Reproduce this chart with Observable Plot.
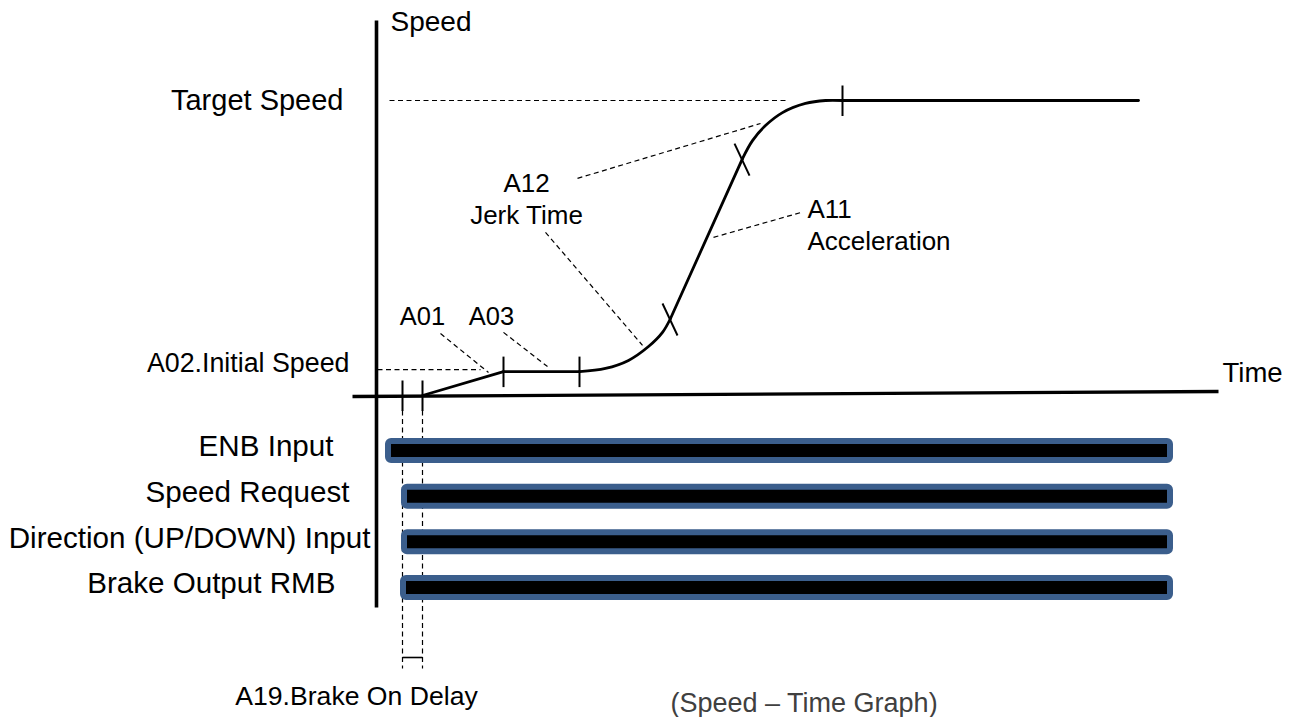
<!DOCTYPE html>
<html>
<head>
<meta charset="utf-8">
<script src="https://cdn.jsdelivr.net/npm/d3@7"></script>
<script src="https://cdn.jsdelivr.net/npm/@observablehq/plot@0.6"></script>
<style>
  html, body { margin: 0; padding: 0; background: #ffffff; }
  #chart svg { display: block; }
</style>
</head>
<body>
<div id="chart"></div>
<script>
// ---------------- DATA ----------------
// time: arbitrary units measured from the speed axis; speed: % of target speed
const segmentNames  = ["A01 ramp", "A03 hold", "A12 jerk in", "A11 acceleration", "A12 jerk out", "target"];
const segmentTimes  = [
  [46, 127],
  [127, 203],
  [203, 229, 252, 272, 286, 294],
  [294, 366],
  [366, 376, 389, 406, 429, 449, 466],
  [466, 762]
];
const segmentSpeeds = [
  [0, 8.1],
  [8.1, 8.1],
  [8.1, 9.2, 11.9, 16.6, 21.4, 26.1],
  [26.1, 80.3],
  [80.3, 86.4, 91.5, 95.9, 99, 100, 100],
  [100, 100]
];

// boundaries between phases (tick marks on the profile)
const boundaryTimes  = [26, 46, 127, 203, 294, 366, 466];
const boundarySpeeds = [0, 0, 8.1, 8.1, 26.1, 80.3, 100];

const targetSpeed  = 100;
const initialSpeed = 8.1;
const brakeReleaseTime = 26;   // A19 delay start
const runStartTime     = 46;   // A19 delay end

// signals
const signals   = ["ENB Input", "Speed Request", "Direction (UP/DOWN) Input", "Brake Output RMB"];
const signalOn  = [9, 25, 25, 24];
const signalOff = [797, 797, 797, 797];

// text
const axisTitles = ["Speed", "Time"];
const levelLabels = ["Target Speed", "A02.Initial Speed"];
const phaseLabels = ["A01", "A03", "A12\nJerk Time", "A11\nAcceleration"];
const delayLabel = "A19.Brake On Delay";
const captionText = "(Speed \u2013 Time Graph)";

// ---------------- LAYOUT (code, not data) ----------------
const W = 1291, H = 717;
const pxPerSpeed = 2.95;
const FONT = "'Liberation Sans', Arial, Helvetica, sans-serif";
const x = {domain: [-376, W - 376], range: [0, W]};
const y = {domain: [-(H - 395) / pxPerSpeed, 395 / pxPerSpeed], range: [H, 0]};
const sp = px => px / pxPerSpeed; // convert a pixel length into speed units

const profile = segmentNames.flatMap((seg, i) =>
  segmentTimes[i].map((t, j) => ({seg, t, s: segmentSpeeds[i][j], smooth: segmentTimes[i].length > 2}))
);

const boundaries = boundaryTimes.map((t, i) => {
  const s = boundarySpeeds[i];
  const slanted = s > initialSpeed && s < targetSpeed;
  return slanted
    ? {x1: t - 8, y1: s + sp(15), x2: t + 7, y2: s - sp(17)}
    : {x1: t, y1: s + sp(15), x2: t, y2: s - sp(15.5)};
});

const lane = d3.scalePoint().domain(signals).range([sp(395 - 450.5), sp(395 - 587.5)]);
const barHalf = sp(9.5);
const bars = signals.map((name, i) => ({
  name, x1: signalOn[i] + 3, x2: signalOff[i] - 3,
  y1: lane(name) + barHalf, y2: lane(name) - barHalf
}));
const laneLabelEnd = [-43, -27, -6, -41];
const laneLabels = signals.map((name, i) => ({name, t: laneLabelEnd[i], s: lane(name) + sp(4)}));

// dashed leader / reference lines
const leaders = [
  {x1: 13,  y1: targetSpeed, x2: 411, y2: targetSpeed},               // target speed reference
  {x1: 1,   y1: initialSpeed + sp(2), x2: 104, y2: initialSpeed + sp(2)}, // initial speed reference
  {x1: 64,  y1: 21,   x2: 112, y2: 7.8},   // A01
  {x1: 127, y1: 21.4, x2: 171, y2: 9.8},   // A03
  {x1: 169, y1: 55.3, x2: 266, y2: 17},    // A12 (jerk in)
  {x1: 201, y1: 73.6, x2: 384, y2: 92.2},  // A12 (jerk out)
  {x1: 337, y1: 53.6, x2: 424, y2: 62},    // A11
  {x1: brakeReleaseTime, y1: sp(-15), x2: brakeReleaseTime, y2: sp(395 - 668)},
  {x1: runStartTime,     y1: sp(-15), x2: runStartTime,     y2: sp(395 - 668)}
];

const chart = Plot.plot({
  width: W,
  height: H,
  margin: 0,
  x: {...x, axis: null},
  y: {...y, axis: null},
  style: {background: "#ffffff", fontFamily: FONT, overflow: "visible"},
  marks: [
    // axes
    Plot.link([{x1: 0, y1: sp(395 - 20), x2: 0, y2: sp(395 - 607)}],
      {x1: "x1", y1: "y1", x2: "x2", y2: "y2", stroke: "#000", strokeWidth: 3.6}),
    Plot.link([{x1: -24, y1: sp(-1), x2: 842, y2: sp(4)}],
      {x1: "x1", y1: "y1", x2: "x2", y2: "y2", stroke: "#000", strokeWidth: 3.4}),
    // dashed leaders
    Plot.link(leaders, {x1: "x1", y1: "y1", x2: "x2", y2: "y2", stroke: "#000",
      strokeWidth: 1.2, strokeDasharray: "5,3.5"}),
    // A19 bracket
    Plot.link([{x1: brakeReleaseTime, x2: runStartTime, y: sp(395 - 657)}],
      {x1: "x1", x2: "x2", y1: "y", y2: "y", stroke: "#000", strokeWidth: 1.6}),
    // signal bars
    Plot.rect(bars, {x1: "x1", x2: "x2", y1: "y1", y2: "y2", fill: "#000",
      stroke: "#3b5e8c", strokeWidth: 6, rx: 3}),
    // speed profile
    Plot.line(profile.filter(d => !d.smooth), {x: "t", y: "s", z: "seg", stroke: "#000",
      strokeWidth: 2.8, strokeLinecap: "round"}),
    Plot.line(profile.filter(d => d.smooth), {x: "t", y: "s", z: "seg", stroke: "#000",
      strokeWidth: 2.8, curve: "catmull-rom"}),
    // boundary ticks
    Plot.link(boundaries, {x1: "x1", y1: "y1", x2: "x2", y2: "y2", stroke: "#000", strokeWidth: 2}),
    // axis titles
    Plot.text([axisTitles[0]], {x: 14, y: sp(395 - 22), text: d => d, textAnchor: "start",
      fontSize: 28, fill: "#000"}),
    Plot.text([axisTitles[1]], {x: 846, y: sp(395 - 373), text: d => d, textAnchor: "start",
      fontSize: 27.5, fill: "#000"}),
    // level labels
    Plot.text([levelLabels[0]], {x: -33, y: targetSpeed, text: d => d, textAnchor: "end",
      fontSize: 29, fill: "#000"}),
    Plot.text([levelLabels[1]], {x: -27, y: sp(395 - 363), text: d => d, textAnchor: "end",
      fontSize: 26.8, fill: "#000"}),
    // phase labels
    Plot.text([phaseLabels[0]], {x: 46, y: sp(395 - 316), text: d => d, fontSize: 25.5, fill: "#000"}),
    Plot.text([phaseLabels[1]], {x: 115, y: sp(395 - 316), text: d => d, fontSize: 25.5, fill: "#000"}),
    Plot.text([phaseLabels[2]], {x: 150, y: sp(395 - 197.5), text: d => d, fontSize: 26,
      lineHeight: 1.2, fill: "#000"}),
    Plot.text([phaseLabels[3]], {x: 431, y: sp(395 - 223.5), text: d => d, fontSize: 26,
      lineHeight: 1.2, textAnchor: "start", fill: "#000"}),
    // lane labels
    Plot.text(laneLabels, {x: "t", y: "s", text: "name", textAnchor: "end", fontSize: 29.6, fill: "#000"}),
    // delay label and caption
    Plot.text([delayLabel], {x: -20, y: sp(395 - 696), text: d => d, fontSize: 26.6, fill: "#000"}),
    Plot.text([captionText], {x: 294, y: sp(395 - 703), text: d => d, textAnchor: "start",
      fontSize: 27, fill: "#404040"})
  ]
});

document.getElementById("chart").appendChild(chart);
</script>
</body>
</html>
